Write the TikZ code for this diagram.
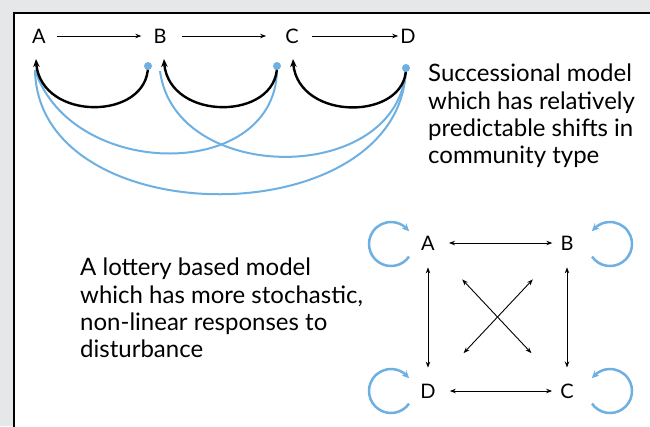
\documentclass[tikz,border=0pt]{standalone}
\usepackage{fontspec}
\setmainfont{Lato}
\usetikzlibrary{arrows.meta,bending,calc}
\definecolor{bg}{RGB}{230,231,232}
\definecolor{lblue}{RGB}{110,176,226}
\begin{document}
\begin{tikzpicture}[x=1pt,y=-1pt,
  letter/.style={inner sep=0pt,font=\fontsize{20}{24}\selectfont},
  txt/.style={inner sep=0pt,align=left,anchor=north west,font=\fontsize{24}{27.3}\selectfont},
  thinarrow/.style={line width=0.9pt,-{Stealth[length=6pt,width=4.5pt]}},
  twoway/.style={line width=0.9pt,{Stealth[length=6pt,width=4.5pt]}-{Stealth[length=6pt,width=4.5pt]}},
  backarc/.style={line width=2.4pt,black,-{Stealth[length=8pt,width=6.5pt]}},
  bluearc/.style={line width=2pt,lblue},
  loopy/.style={line width=2.5pt,lblue,-{Stealth[length=7.5pt,width=7pt,bend]}},
  dot/.style={fill=lblue}]
\useasboundingbox (0,0) rectangle (650,426);
\fill[bg] (0,0) rectangle (650,426);
\filldraw[fill=white,draw=black,line width=2.5pt] (14,13) rectangle (720,500);

% top row
\node[letter] (tA) at (39,36) {A};
\node[letter] (tB) at (160,36) {B};
\node[letter] (tC) at (292,36) {C};
\node[letter] (tD) at (408,36) {D};
\draw[thinarrow,shorten <=11pt,shorten >=12pt] (tA) -- (tB);
\draw[thinarrow,shorten <=15pt,shorten >=19pt] (tB) -- (tC);
\draw[thinarrow,shorten <=13pt,shorten >=2pt] (tC) -- (tD);

\coordinate (aA) at (36,59);
\coordinate (aB) at (164,59);
\coordinate (aC) at (293,59);
\coordinate (bA) at (35,70);
\coordinate (bB) at (160,71);
\coordinate (sB) at (148,66);
\coordinate (sC) at (277,66);
\coordinate (sD) at (406,68);

% blue arcs
\draw[bluearc] (sC) .. controls (280,182) and (72,182) .. (bA);
\draw[bluearc] (sD) .. controls (400,186) and (175,186) .. (bB);
\draw[bluearc] (sD) .. controls (402,236) and (38,236) .. (bA);
% black arcs
\draw[backarc] (sB) .. controls (148,122) and (36,122) .. (aA);
\draw[backarc] (sC) .. controls (277,122) and (164,122) .. (aB);
\draw[backarc] (sD) .. controls (406,122) and (293,122) .. (aC);
\fill[dot] (sB) circle[radius=4];
\fill[dot] (sC) circle[radius=4];
\fill[dot] (sD) circle[radius=4];

\node[txt] (t1) at (428,64) {Successional model\\which has relatively\\predictable shifts in\\community type};
\node[txt] (t2) at (80,258) {A lottery based model\\which has more stochastic,\\non-linear responses to\\disturbance};

% square
\node[letter] (qA) at (428,243) {A};
\node[letter] (qB) at (567,243) {B};
\node[letter] (qD) at (428,391) {D};
\node[letter] (qC) at (567,391) {C};
\draw[twoway,shorten <=14pt,shorten >=8pt] (qA) -- (qB);
\draw[twoway,shorten <=14pt,shorten >=8pt] (qD) -- (qC);
\draw[twoway,shorten <=17pt,shorten >=16pt] (qA) -- (qD);
\draw[twoway,shorten <=17pt,shorten >=16pt] (qB) -- (qC);
\draw[twoway,shorten <=50pt,shorten >=52pt] (qA.center) -- (qC.center);
\draw[twoway,shorten <=50pt,shorten >=52pt] (qB.center) -- (qD.center);

% loops
\coordinate (lA) at (391,244);
\coordinate (lB) at (610,244);
\coordinate (lD) at (391,391);
\coordinate (lC) at (610,391);
\draw[loopy] ($(lA)+(35:22)$) arc[start angle=35,end angle=325,radius=22];
\draw[loopy] ($(lD)+(35:22)$) arc[start angle=35,end angle=325,radius=22];
\draw[loopy] ($(lB)+(145:22)$) arc[start angle=145,end angle=-145,radius=22];
\draw[loopy] ($(lC)+(145:22)$) arc[start angle=145,end angle=-145,radius=22];
\end{tikzpicture}
\end{document}
